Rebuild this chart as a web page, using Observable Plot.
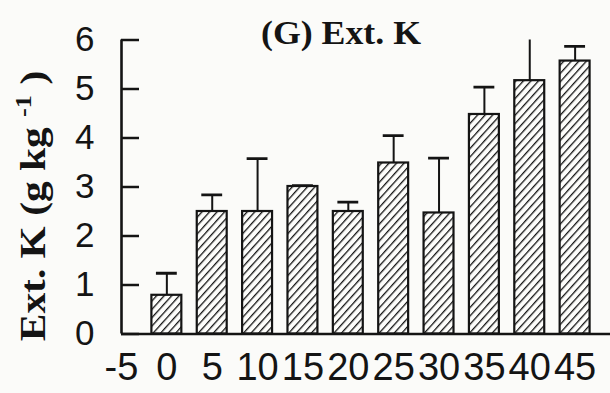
<!DOCTYPE html>
<html><head><meta charset="utf-8">
<script src="https://cdn.jsdelivr.net/npm/d3@7"></script>
<script src="https://cdn.jsdelivr.net/npm/@observablehq/plot@0.6"></script>
<style>
  html,body{margin:0;padding:0;background:#fbfbf9;}
  #chart svg{display:block;}
</style>
</head><body><div id="chart"></div>
<script>
// Data
const days   = [0, 5, 10, 15, 20, 25, 30, 35, 40, 45];
const extK   = [0.79, 2.50, 2.50, 3.01, 2.50, 3.49, 2.47, 4.48, 5.17, 5.57];
const errUp  = [0.45, 0.34, 1.08, 0.02, 0.19, 0.56, 1.12, 0.56, 0.95, 0.30];
const xTicks = [-5, 0, 5, 10, 15, 20, 25, 30, 35, 40, 45];
const yTicks = [0, 1, 2, 3, 4, 5, 6];
const titleText = "(G) Ext. K";
const yLabelMain = "Ext. K (g kg";
const yLabelSup = "-1";
const yLabelEnd = ")";

const rows = days.map((d, i) => ({day: d, value: extK[i], hi: extK[i] + errUp[i]}));
const halfBar = 1.65, halfCap = 1.15;

const ink = "#141414";
const sans = "'Liberation Sans', Arial, sans-serif";
const serif = "'Liberation Serif', 'Times New Roman', serif";

const svg = Plot.plot({
  width: 610,
  height: 393,
  marginLeft: 121,
  marginRight: 0,
  marginTop: 39.5,
  marginBottom: 59.5,
  style: {background: "transparent", color: ink, fontFamily: sans, overflow: "visible"},
  x: {type: "linear", domain: [-5, 48.9], label: null},
  y: {domain: [0, 6], label: null},
  marks: [
    Plot.rectY(rows, {
      x1: d => d.day - halfBar, x2: d => d.day + halfBar, y1: 0, y2: "value",
      fill: "url(#hatch)", stroke: ink, strokeWidth: 2.2
    }),
    Plot.ruleX(rows, {x: "day", y1: "value", y2: "hi", stroke: ink, strokeWidth: 2, clip: true}),
    Plot.ruleY(rows, {y: "hi", x1: d => d.day - halfCap, x2: d => d.day + halfCap, stroke: ink, strokeWidth: 2.8, clip: true}),
    Plot.axisY({ticks: yTicks, tickSize: 0, tickPadding: 27, fontSize: 35, label: null, tickFormat: d => String(d)}),
    Plot.axisY({ticks: yTicks, tickSize: -18, text: null, label: null, strokeWidth: 2.5}),
    Plot.axisX({ticks: xTicks, tickSize: 0, tickPadding: 19, fontSize: 38, label: null, tickFormat: d => String(d)}),
    Plot.ruleY([0], {stroke: ink, strokeWidth: 2.6}),
    Plot.ruleX([-5], {y1: 0, y2: 6, stroke: ink, strokeWidth: 2.6})
  ]
});

const s = d3.select(svg);
const defs = s.insert("defs", ":first-child");
const P = 5.6;
const pat = defs.append("pattern")
  .attr("id", "hatch")
  .attr("patternUnits", "userSpaceOnUse")
  .attr("width", P).attr("height", P)
  .attr("patternTransform", "rotate(42)");
pat.append("rect").attr("width", P).attr("height", P).attr("fill", "#fdfdfb");
pat.append("line").attr("x1", 0).attr("y1", 0).attr("x2", 0).attr("y2", P)
  .attr("stroke", ink).attr("stroke-width", 2.6);

// title
s.append("text")
  .attr("x", 341).attr("y", 44)
  .attr("text-anchor", "middle")
  .attr("font-family", serif).attr("font-weight", "bold")
  .attr("font-size", 34).attr("fill", ink)
  .attr("textLength", 160).attr("lengthAdjust", "spacingAndGlyphs")
  .text(titleText);

// y-axis label
const yl = s.append("text")
  .attr("transform", "translate(45,206) rotate(-90) scale(1.15,1)")
  .attr("text-anchor", "middle")
  .attr("font-family", serif).attr("font-weight", "bold")
  .attr("font-size", 36).attr("fill", ink);
yl.append("tspan").text(yLabelMain + " ");
yl.append("tspan").attr("font-size", 23).attr("dy", -14).text(yLabelSup);
yl.append("tspan").attr("dy", 14).text(" " + yLabelEnd);

document.getElementById("chart").appendChild(svg);
</script>
</body></html>
